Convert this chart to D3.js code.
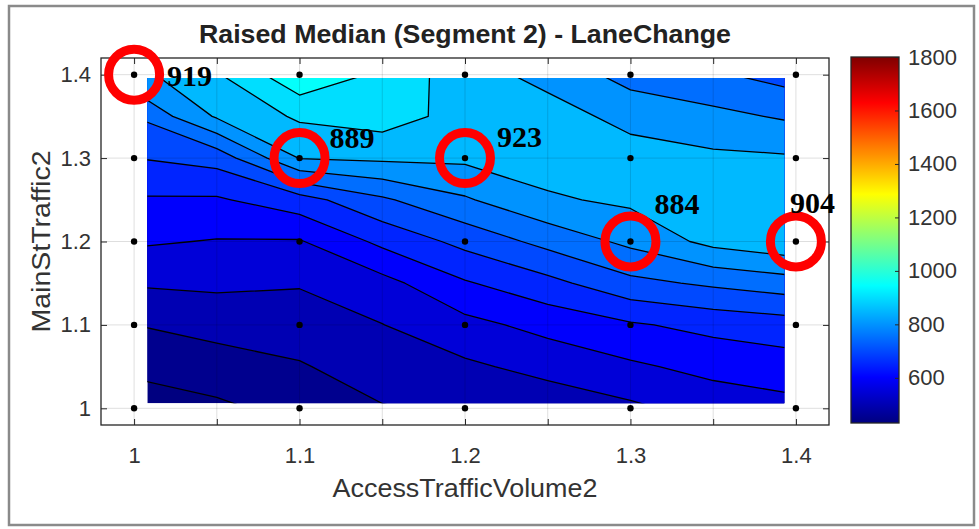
<!DOCTYPE html>
<html>
<head>
<meta charset="utf-8">
<script src="https://cdn.jsdelivr.net/npm/d3@7"></script>
<style>
html, body { margin: 0; padding: 0; background: #fff; }
svg { display: block; }
text { font-family: Arial, "Liberation Sans", sans-serif; }
text.note { font-family: "Times New Roman", "Liberation Serif", serif; }
</style>
</head>
<body>
<svg id="chart" width="979" height="529"></svg>
<script>
// Raised Median (Segment 2) - LaneChange
// MATLAB-style contourf of lane change counts over a 0.05 grid, jet colormap,
// with the five highlighted run points circled in red.

var xGrid = [1, 1.05, 1.1, 1.15, 1.2, 1.25, 1.3, 1.35, 1.4];
var yGrid = [1, 1.05, 1.1, 1.15, 1.2, 1.25, 1.3, 1.35, 1.4];
// one row per yGrid value (bottom to top), one column per xGrid value
var zRows = [
    [428, 440, 467, 497, 509, 518, 540, 570, 585],
    [459, 478, 496, 523, 541, 566, 592, 615, 629],
    [500, 517, 524, 549, 585, 616, 644, 665, 679],
    [555, 560, 554, 583, 645, 685, 736, 759, 780],
    [607, 597, 596, 662, 715, 766, 812, 865, 890],
    [645, 644, 679, 742, 794, 843, 860, 870, 880],
    [700, 719, 852, 859, 860, 875, 870, 860, 855],
    [751, 856, 908, 925, 880, 870, 835, 814, 791],
    [834, 895, 990, 940, 870, 835, 780, 757, 727]
];
var levels = [450, 500, 550, 600, 650, 700, 750, 800, 850, 900, 950];
var cLim = [431, 1800];
var cbTicks = [600, 800, 1000, 1200, 1400, 1600, 1800];

var xTickValues = [1, 1.05, 1.1, 1.15, 1.2, 1.25, 1.3, 1.35, 1.4];
var xTickLabels = ['1', '', '1.1', '', '1.2', '', '1.3', '', '1.4'];
var yTickValues = [1, 1.1, 1.2, 1.3, 1.4];
var yTickLabels = ['1', '1.1', '1.2', '1.3', '1.4'];

// design points that were simulated (black dots)
var runX = [1, 1.1, 1.2, 1.3, 1.4];
var runY = [1, 1.1, 1.2, 1.3, 1.4];

// circled points and their annotation
var markX = [1, 1.1, 1.2, 1.3, 1.4];
var markY = [1.4, 1.3, 1.3, 1.2, 1.2];
var markText = ['919', '889', '923', '884', '904'];

(function () {
    var svg = d3.select('#chart');
    var xLim = [0.98, 1.42], yLim = [0.98, 1.42];
    var fillX = [1.008, 1.393], fillY = [1.006, 1.396];   // extent of the filled patch
    var m = { left: 101, right: 829, top: 58, bottom: 425 };
    var labelShift = [[33, 11], [30, -10], [32, -11], [24, -28], [-6, -29]];

    var x = d3.scaleLinear().domain(xLim).range([m.left, m.right]);
    var y = d3.scaleLinear().domain(yLim).range([m.bottom, m.top]);

    function jet(v) {
        var t = (v - cLim[0]) / (cLim[1] - cLim[0]);
        t = Math.max(0, Math.min(1, t));
        function ch(c) { return Math.round(255 * Math.max(0, Math.min(1, 1.5 - Math.abs(4 * t - c)))); }
        return d3.rgb(ch(3), ch(2), ch(1)).formatHex();
    }

    // outer frame of the screenshot
    svg.append('rect')
        .attr('x', 9).attr('y', 6).attr('width', 965).attr('height', 519)
        .attr('fill', 'none').attr('stroke', '#8a8a8a').attr('stroke-width', 2.5);

    // title
    svg.append('text')
        .attr('x', (m.left + m.right) / 2).attr('y', 43)
        .attr('text-anchor', 'middle')
        .attr('font-size', 26).attr('font-weight', 'bold').attr('fill', '#222')
        .attr('textLength', 532).attr('lengthAdjust', 'spacingAndGlyphs')
        .text('Raised Median (Segment 2) - LaneChange');

    // contour bands
    var nx = xGrid.length, ny = yGrid.length;
    var values = [];
    zRows.forEach(function (row) { row.forEach(function (v) { values.push(v); }); });
    var bands = d3.contours().size([nx, ny]).thresholds(levels)(values);

    var ix = d3.scaleLinear().domain([0.5, nx - 0.5]).range([xGrid[0], xGrid[nx - 1]]);
    var iy = d3.scaleLinear().domain([0.5, ny - 0.5]).range([yGrid[0], yGrid[ny - 1]]);
    var path = d3.geoPath(d3.geoTransform({
        point: function (px, py) { this.stream.point(x(ix(px)), y(iy(py))); }
    }));

    svg.append('clipPath').attr('id', 'fill-clip')
        .append('rect')
        .attr('x', x(fillX[0])).attr('y', y(fillY[1]))
        .attr('width', x(fillX[1]) - x(fillX[0]))
        .attr('height', y(fillY[0]) - y(fillY[1]));

    var cg = svg.append('g').attr('clip-path', 'url(#fill-clip)');
    cg.append('rect')
        .attr('x', x(fillX[0])).attr('y', y(fillY[1]))
        .attr('width', x(fillX[1]) - x(fillX[0]))
        .attr('height', y(fillY[0]) - y(fillY[1]))
        .attr('fill', jet(cLim[0]));
    cg.selectAll('path.band').data(bands).enter().append('path')
        .attr('class', 'band')
        .attr('d', path)
        .attr('fill', function (d) { return jet(d.value); });
    cg.selectAll('path.iso').data(bands).enter().append('path')
        .attr('class', 'iso')
        .attr('d', path)
        .attr('fill', 'none')
        .attr('stroke', '#000')
        .attr('stroke-width', 1.3)
        .attr('stroke-linejoin', 'round');

    // grid on top
    var grid = svg.append('g').attr('stroke', '#000').attr('stroke-opacity', 0.13).attr('stroke-width', 1);
    xTickValues.forEach(function (v) {
        grid.append('line').attr('x1', x(v)).attr('x2', x(v)).attr('y1', m.top).attr('y2', m.bottom);
    });
    yTickValues.forEach(function (v) {
        grid.append('line').attr('x1', m.left).attr('x2', m.right).attr('y1', y(v)).attr('y2', y(v));
    });

    // run points
    var pts = [];
    runX.forEach(function (a) { runY.forEach(function (b) { pts.push([a, b]); }); });
    svg.append('g').selectAll('circle').data(pts).enter().append('circle')
        .attr('cx', function (d) { return x(d[0]); })
        .attr('cy', function (d) { return y(d[1]); })
        .attr('r', 3.2).attr('fill', '#000');

    // axes box and inward ticks
    function styleAxis(g) {
        g.select('.domain').remove();
        g.attr('font-size', 22).attr('color', '#262626');
        g.selectAll('text').attr('fill', '#333');
    }
    var ax = svg.append('g').attr('transform', 'translate(0,' + m.bottom + ')')
        .call(d3.axisBottom(x).tickValues(xTickValues)
            .tickFormat(function (d, i) { return xTickLabels[i]; })
            .tickSize(-6).tickPadding(22));
    styleAxis(ax);
    styleAxis(svg.append('g').attr('transform', 'translate(0,' + m.top + ')')
        .call(d3.axisTop(x).tickValues(xTickValues).tickFormat('').tickSize(-6)));
    styleAxis(svg.append('g').attr('transform', 'translate(' + m.left + ',0)')
        .call(d3.axisLeft(y).tickValues(yTickValues)
            .tickFormat(function (d, i) { return yTickLabels[i]; })
            .tickSize(-6).tickPadding(10)));
    styleAxis(svg.append('g').attr('transform', 'translate(' + m.right + ',0)')
        .call(d3.axisRight(y).tickValues(yTickValues).tickFormat('').tickSize(-6)));

    svg.append('rect')
        .attr('x', m.left).attr('y', m.top)
        .attr('width', m.right - m.left).attr('height', m.bottom - m.top)
        .attr('fill', 'none').attr('stroke', '#262626').attr('stroke-width', 1.3);

    // axis titles
    svg.append('text')
        .attr('x', (x(1) + x(1.4)) / 2).attr('y', 497)
        .attr('text-anchor', 'middle').attr('font-size', 25).attr('fill', '#333')
        .attr('textLength', 265).attr('lengthAdjust', 'spacingAndGlyphs')
        .text('AccessTrafficVolume2');
    svg.append('text')
        .attr('transform', 'translate(50,' + ((y(1) + y(1.4)) / 2) + ') rotate(-90)')
        .attr('text-anchor', 'middle').attr('font-size', 25).attr('fill', '#333')
        .attr('textLength', 182).attr('lengthAdjust', 'spacingAndGlyphs')
        .text('MainStTraffic2');

    // colorbar
    var cb = { x0: 851, x1: 899, top: 57, bottom: 423 };
    var cy = d3.scaleLinear().domain(cLim).range([cb.bottom, cb.top]);
    var grad = svg.append('defs').append('linearGradient')
        .attr('id', 'jet').attr('x1', 0).attr('y1', 1).attr('x2', 0).attr('y2', 0);
    d3.range(0, 1.0001, 1 / 64).forEach(function (t) {
        grad.append('stop').attr('offset', t)
            .attr('stop-color', jet(cLim[0] + t * (cLim[1] - cLim[0])));
    });
    svg.append('rect')
        .attr('x', cb.x0).attr('y', cb.top)
        .attr('width', cb.x1 - cb.x0).attr('height', cb.bottom - cb.top)
        .attr('fill', 'url(#jet)').attr('stroke', '#262626').attr('stroke-width', 1.3);
    styleAxis(svg.append('g').attr('transform', 'translate(' + cb.x1 + ',0)')
        .call(d3.axisRight(cy).tickValues(cbTicks).tickFormat(d3.format('d'))
            .tickSize(-4).tickPadding(9)));

    // red circles and their numbers
    svg.append('g').selectAll('circle').data(markX).enter().append('circle')
        .attr('cx', function (d) { return x(d); })
        .attr('cy', function (d, i) { return y(markY[i]); })
        .attr('r', 25.5)
        .attr('fill', 'none').attr('stroke', '#ff0000').attr('stroke-width', 9);
    svg.append('g').selectAll('text').data(markText).enter().append('text')
        .attr('class', 'note')
        .attr('x', function (d, i) { return x(markX[i]) + labelShift[i][0]; })
        .attr('y', function (d, i) { return y(markY[i]) + labelShift[i][1]; })
        .attr('font-weight', 'bold').attr('font-size', 30).attr('fill', '#000')
        .text(function (d) { return d; });
})();
</script>
</body>
</html>
